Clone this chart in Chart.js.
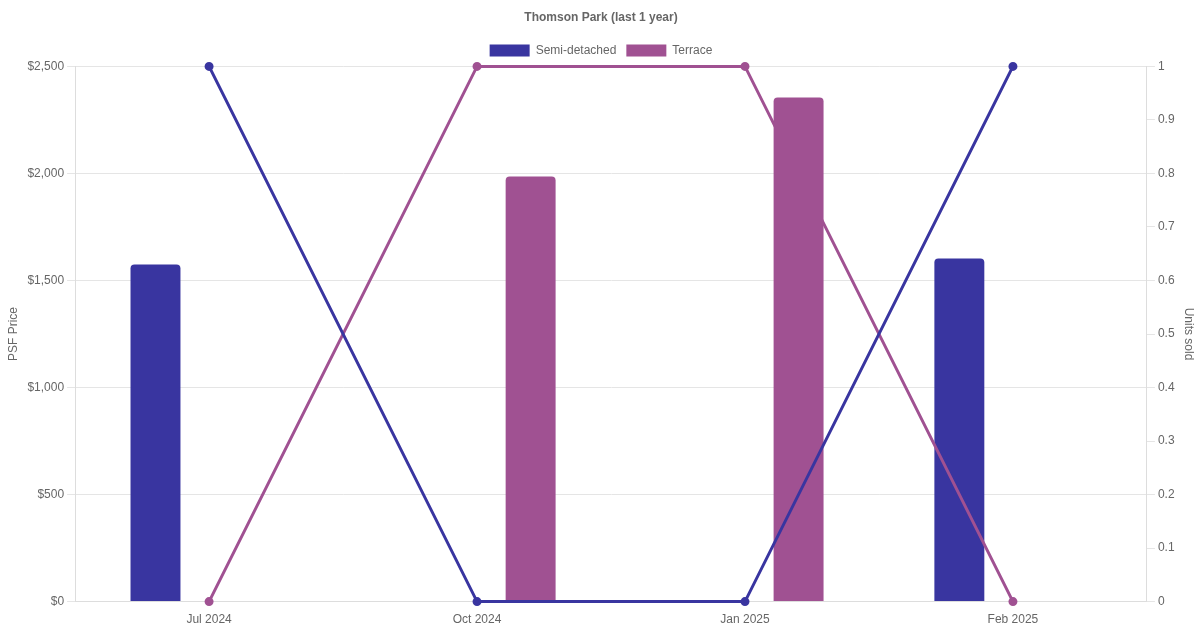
<!DOCTYPE html>
<html>
<head>
<meta charset="utf-8">
<script src="https://cdn.jsdelivr.net/npm/chart.js@4"></script>
<style>
  html, body { margin:0; padding:0; background:#fff; }
  #wrap { width:1200px; height:630px; }
</style>
</head>
<body>
<div id="wrap"><canvas id="chart"></canvas></div>
<script>
/* ====== データ ====== */
const months = ['Jul 2024', 'Oct 2024', 'Jan 2025', 'Feb 2025'];
const semiPsf    = [1575, null, null, 1603];
const terracePsf = [null, 1986, 2355, null];
const semiUnits    = [1, 0, 0, 1];
const terraceUnits = [0, 1, 1, 0];

const SEMI = '#3935a0';
const TERRACE = '#a05192';

Chart.defaults.font.family = '"Liberation Sans", Arial, sans-serif';
Chart.defaults.font.size = 12;
Chart.defaults.color = '#666';

// 重なり順を調整: semi棒 → terrace線 → terrace棒 → semi線
const IDX_SEMI_BAR = 0, IDX_TER_BAR = 1, IDX_TER_LINE = 3;
const layerPlugin = {
  id: 'layer',
  beforeDatasetDraw(chart, args) {
    if (args.index === IDX_TER_BAR || args.index === IDX_TER_LINE) return false;
  },
  afterDatasetDraw(chart, args) {
    if (args.index !== IDX_SEMI_BAR) return;
    chart.getDatasetMeta(IDX_TER_LINE).controller.draw();
    chart.getDatasetMeta(IDX_TER_BAR).controller.draw();
  }
};

new Chart(document.getElementById('chart').getContext('2d'), {
  type: 'bar',
  data: {
    labels: months,
    datasets: [
      { label:'Semi-detached', data:semiPsf, backgroundColor:SEMI, borderWidth:0, order:2,
        borderRadius:4, borderSkipped:'bottom', barPercentage:0.466, categoryPercentage:0.8, yAxisID:'y' },
      { label:'Terrace', data:terracePsf, backgroundColor:TERRACE, borderWidth:0, order:3,
        borderRadius:4, borderSkipped:'bottom', barPercentage:0.466, categoryPercentage:0.8, yAxisID:'y' },
      { type:'line', label:'Semi-detached units', data:semiUnits, borderColor:SEMI, backgroundColor:SEMI, order:0,
        borderWidth:3, pointRadius:3, tension:0, clip:false, yAxisID:'y1' },
      { type:'line', label:'Terrace units', data:terraceUnits, borderColor:TERRACE, backgroundColor:TERRACE, order:1,
        borderWidth:3, pointRadius:3, tension:0, clip:false, yAxisID:'y1' }
    ]
  },
  options: {
    responsive:true, maintainAspectRatio:false, animation:false,
    layout:{ padding:{ left:2, right:0, top:0, bottom:0 } },
    plugins:{
      title:{ display:true, text:'Thomson Park (last 1 year)', color:'#666', font:{ weight:'bold', size:12 },
        padding:{ top:10, bottom:10 } },
      legend:{
        labels:{ boxWidth:40, boxHeight:12, color:'#666', filter:(item)=>item.datasetIndex < 2 }
      },
      tooltip:{ enabled:false }
    },
    scales:{
      x:{
        grid:{ display:false },
        border:{ display:true, color:'#ddd' },
        ticks:{ color:'#666' }
      },
      y:{
        position:'left', min:0, max:2500,
        ticks:{ stepSize:500, color:'#666', callback:v=>'$' + Number(v).toLocaleString('en-US') },
        grid:{ color:'#e5e5e5' },
        border:{ color:'#ddd' },
        title:{ display:true, text:'PSF Price', color:'#666' }
      },
      y1:{
        position:'right', min:0, max:1,
        ticks:{ stepSize:0.1, color:'#666', callback:v=>String(Math.round(v*10)/10) },
        grid:{ drawOnChartArea:false, color:'#e5e5e5' },
        border:{ color:'#ddd' },
        title:{ display:true, text:'Units sold', color:'#666' }
      }
    }
  },
  plugins:[layerPlugin]
});
</script>
</body>
</html>
